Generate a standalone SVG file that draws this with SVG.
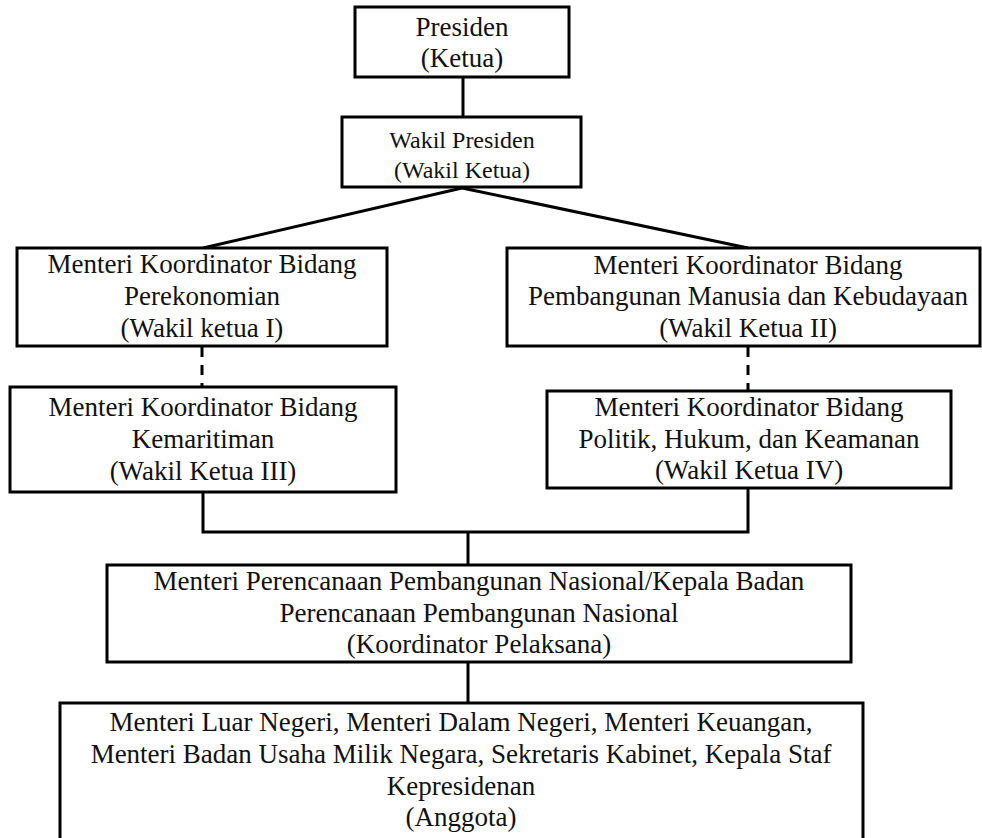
<svg xmlns="http://www.w3.org/2000/svg" width="982" height="838" viewBox="0 0 982 838">
<style>
.box{fill:#fff;stroke:#000;stroke-width:3}
.ln{fill:none;stroke:#000;stroke-width:3}
.dash{fill:none;stroke:#000;stroke-width:3;stroke-dasharray:10 8}
text{font-family:"Liberation Serif","Times New Roman",serif;font-size:27px;fill:#111;text-anchor:middle}
.sm{font-size:24px}
</style>
<rect width="982" height="838" fill="#fff"/>
<g id="connectors">
<line class="ln" x1="463" y1="77" x2="463" y2="117"/>
<line class="ln" x1="462" y1="188" x2="203" y2="248"/>
<line class="ln" x1="462" y1="188" x2="748" y2="248"/>
<line class="dash" x1="202" y1="347" x2="202" y2="387"/>
<line class="dash" x1="748" y1="347" x2="748" y2="391"/>
<polyline class="ln" points="203,492 203,532 748,532 748,488"/>
<line class="ln" x1="468" y1="532" x2="468" y2="565"/>
<line class="ln" x1="468" y1="662" x2="468" y2="703"/>
</g>
<g id="presiden">
<rect class="box" x="355" y="7" width="214" height="70"/>
<text x="462" y="36">Presiden</text>
<text x="462" y="67">(Ketua)</text>
</g>
<g id="wakil-presiden">
<rect class="box" x="342" y="117" width="239" height="70"/>
<text class="sm" x="462" y="148">Wakil Presiden</text>
<text class="sm" x="462" y="178">(Wakil Ketua)</text>
</g>
<g id="menko-perekonomian">
<rect class="box" x="17" y="248" width="370" height="98"/>
<text x="202" y="273">Menteri Koordinator Bidang</text>
<text x="202" y="305">Perekonomian</text>
<text x="202" y="337">(Wakil ketua I)</text>
</g>
<g id="menko-pmk">
<rect class="box" x="507" y="248" width="473" height="98"/>
<text x="748" y="274">Menteri Koordinator Bidang</text>
<text x="748" y="305">Pembangunan Manusia dan Kebudayaan</text>
<text x="748" y="337">(Wakil Ketua II)</text>
</g>
<g id="menko-maritim">
<rect class="box" x="10" y="387" width="386" height="105"/>
<text x="203" y="416">Menteri Koordinator Bidang</text>
<text x="203" y="448">Kemaritiman</text>
<text x="203" y="480">(Wakil Ketua III)</text>
</g>
<g id="menko-polhukam">
<rect class="box" x="547" y="391" width="404" height="97"/>
<text x="749" y="416">Menteri Koordinator Bidang</text>
<text x="749" y="448">Politik, Hukum, dan Keamanan</text>
<text x="749" y="479">(Wakil Ketua IV)</text>
</g>
<g id="bappenas">
<rect class="box" x="107" y="565" width="744" height="97"/>
<text x="479" y="590">Menteri Perencanaan Pembangunan Nasional/Kepala Badan</text>
<text x="479" y="622">Perencanaan Pembangunan Nasional</text>
<text x="479" y="653">(Koordinator Pelaksana)</text>
</g>
<g id="anggota">
<rect class="box" x="60" y="703" width="803" height="160"/>
<text x="461" y="731">Menteri Luar Negeri, Menteri Dalam Negeri, Menteri Keuangan,</text>
<text x="461" y="763">Menteri Badan Usaha Milik Negara, Sekretaris Kabinet, Kepala Staf</text>
<text x="461" y="795">Kepresidenan</text>
<text x="461" y="826">(Anggota)</text>
</g>
</svg>
